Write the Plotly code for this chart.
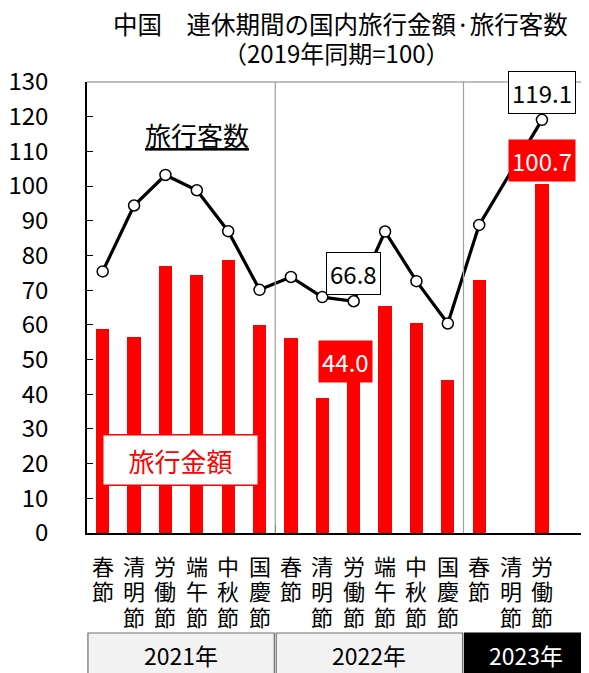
import plotly.graph_objects as go

# data (2019 same period = 100)
holidays = ["春節", "清明節", "労働節", "端午節", "中秋節", "国慶節",
            "春節", "清明節", "労働節", "端午節", "中秋節", "国慶節",
            "春節", "清明節", "労働節"]
spending = [58.7, 56.4, 77.1, 74.5, 78.6, 59.9,
            56.1, 38.8, 44.0, 65.3, 60.4, 44.1,
            73.0, None, 100.7]
trips = [75.4, 94.4, 103.2, 98.8, 87.0, 70.1,
         73.8, 68.0, 66.8, 86.9, 72.6, 60.4,
         88.8, None, 119.1]
years = ["2021年", "2022年", "2023年"]
year_spans = [(-0.5, 5.5), (5.5, 11.5), (11.5, 15.5)]

FONT = "Noto Sans CJK JP"
xs = list(range(len(holidays)))

# page body has an 8px margin, so the figure is drawn 8px smaller
W, H, OFF = 589 - 8, 673 - 8, 8
TOP, BOTTOM, LEFT = 82 - OFF, 533 - OFF, 85 - OFF


def py(p):
    # reference pixel row -> paper y
    return (BOTTOM - (p - OFF)) / (BOTTOM - TOP)


def px(p):
    # reference pixel column -> paper x
    return ((p - OFF) - LEFT) / (W - LEFT)


def note(**kw):
    kw.setdefault("showarrow", False)
    kw.setdefault("xanchor", "center")
    kw.setdefault("yanchor", "middle")
    return kw


fig = go.Figure()
fig.add_trace(go.Bar(
    x=xs, y=spending, width=0.42, marker=dict(color="#ff0000", line=dict(width=0)),
    name="旅行金額",
))
fig.add_trace(go.Scatter(
    x=xs, y=trips, mode="lines+markers", connectgaps=True, name="旅行客数",
    line=dict(color="black", width=3.2),
    marker=dict(size=11, color="white", line=dict(color="black", width=1.5)),
))

shapes = []
# year separators and top frame line
for sep in [5.5, 11.5]:
    shapes.append(dict(type="line", xref="x", yref="paper", x0=sep, x1=sep, y0=0, y1=1,
                       line=dict(color="#a0a0a0", width=1.2)))
shapes.append(dict(type="line", xref="paper", yref="paper", x0=0, x1=1, y0=1, y1=1,
                   line=dict(color="#808080", width=1.2)))

annotations = []
# year boxes under the axis
for i, (yr, (a, b)) in enumerate(zip(years, year_spans)):
    last = i == len(years) - 1
    shapes.append(dict(type="rect", xref="x", yref="paper", x0=a + 0.03, x1=b - 0.03,
                       y0=py(633), y1=py(690),
                       fillcolor="black" if last else "#f2f2f2",
                       line=dict(color="black" if last else "#707070", width=1.2)))
    annotations.append(note(x=(a + b) / 2 if not last else 13.5, y=py(655), xref="x", yref="paper",
                            text=yr,
                            font=dict(size=23, color="white" if last else "black", family=FONT)))

# vertical category labels, one character per row
for x, name in zip(xs, holidays):
    for k, ch in enumerate(name):
        annotations.append(note(x=x, y=py(565 + 25.3 * k), xref="x", yref="paper", text=ch,
                                font=dict(size=22, color="black", family=FONT)))

# title
annotations.append(note(x=px(340), y=py(24), xref="paper", yref="paper",
                        text="中国　連休期間の国内旅行金額·旅行客数",
                        font=dict(size=24.5, color="black", family=FONT)))
annotations.append(note(x=px(335), y=py(52), xref="paper", yref="paper",
                        text="（2019年同期=100）",
                        font=dict(size=24, color="black", family=FONT)))

# series labels
annotations.append(note(x=3.0, y=115, xref="x", yref="y",
                        text="<u>旅行客数</u>", font=dict(size=26, color="black", family=FONT)))
annotations.append(note(x=2.47, y=21, xref="x", yref="y",
                        text="旅行金額", font=dict(size=26, color="#ff0000", family=FONT),
                        bgcolor="white", bordercolor="#ff0000", borderwidth=1.5,
                        borderpad=6, width=142))

# value call-outs
annotations.append(note(x=8, y=74.8, xref="x", yref="y", text="66.8",
                        font=dict(size=24, color="black", family=FONT),
                        bgcolor="white", bordercolor="black", borderwidth=1, borderpad=3))
annotations.append(note(x=7.73, y=49.5, xref="x", yref="y", text="44.0",
                        font=dict(size=24, color="white", family=FONT),
                        bgcolor="#ff0000", borderpad=3))
annotations.append(note(x=14, y=127.1, xref="x", yref="y", text="119.1",
                        font=dict(size=24, color="black", family=FONT),
                        bgcolor="white", bordercolor="black", borderwidth=1, borderpad=3))
annotations.append(note(x=14, y=107.3, xref="x", yref="y", text="100.7",
                        font=dict(size=24, color="white", family=FONT),
                        bgcolor="#ff0000", borderpad=3))

fig.update_layout(
    width=W, height=H,
    margin=dict(l=LEFT, r=0, t=TOP, b=H - BOTTOM),
    plot_bgcolor="white", paper_bgcolor="white",
    showlegend=False,
    font=dict(family=FONT, color="black"),
    bargap=0,
    xaxis=dict(range=[-0.5, 15.5], showgrid=False, zeroline=False,
               showline=True, linecolor="black", linewidth=1.5,
               tickvals=[5.5, 11.5], ticks="inside", ticklen=8, tickcolor="black",
               showticklabels=False),
    yaxis=dict(range=[0, 130], dtick=10, showgrid=False, zeroline=False,
               showline=True, linecolor="black", linewidth=1.5,
               ticks="inside", ticklen=6, tickcolor="black",
               ticklabelstandoff=32,
               tickfont=dict(size=24, color="black", family=FONT)),
    shapes=shapes,
    annotations=annotations,
)

fig.write_html("out.html")
